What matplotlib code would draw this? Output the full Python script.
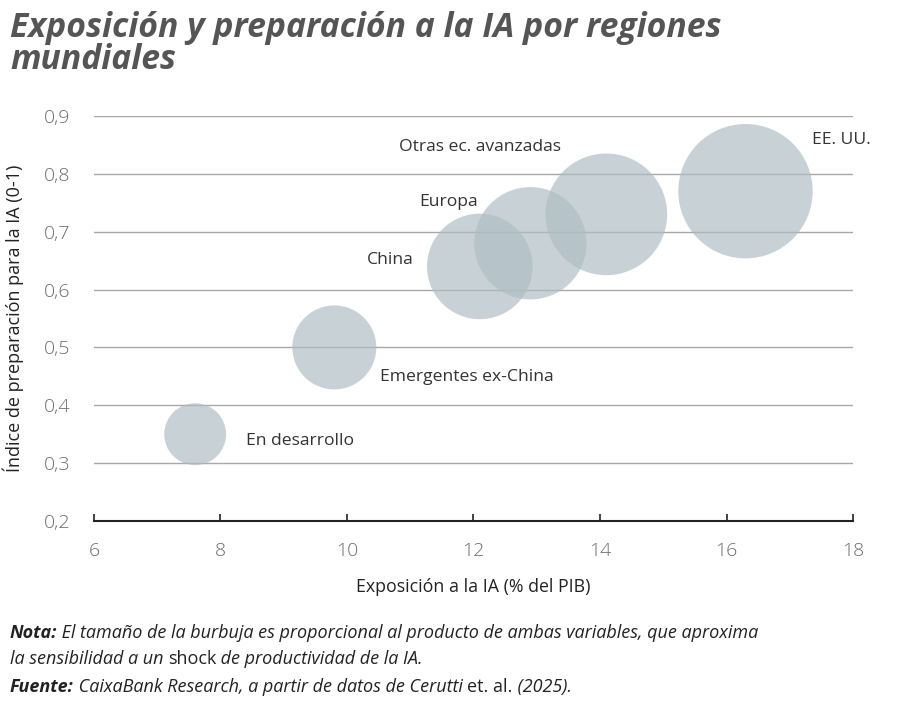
import matplotlib; matplotlib.use("Agg")
import numpy as np
import matplotlib.pyplot as plt

# datos
regiones = ["En desarrollo", "Emergentes ex-China", "China", "Europa",
            "Otras ec. avanzadas", "EE. UU."]
exposicion = [7.6, 9.8, 12.1, 12.9, 14.1, 16.3]
preparacion = [0.35, 0.50, 0.64, 0.68, 0.73, 0.77]

# posicion de las etiquetas (coordenadas de datos)
etiq_x = [9.26, 11.9, 10.68, 11.61, 12.1, 17.35]
etiq_y = [0.338, 0.449, 0.651, 0.751, 0.846, 0.858]
etiq_ha = ["center", "center", "center", "center", "center", "left"]

plt.rcParams['font.family'] = ['Open Sans', 'DejaVu Sans']
cond = ['Liberation Sans Narrow', 'Open Sans', 'DejaVu Sans']

fig = plt.figure(figsize=(9, 7.02), dpi=100)
ax = fig.add_axes([0.1044, 0.2578, 0.8434, 0.577])

x = np.array(exposicion)
y = np.array(preparacion)
tam = 746 * x * y  # area proporcional al producto
ax.scatter(x, y, s=tam, color="#aebdc2", alpha=0.67, edgecolors="none", zorder=3)

for t, tx, ty, ha in zip(regiones, etiq_x, etiq_y, etiq_ha):
    ax.text(tx, ty, t, ha=ha, va="center", fontsize=12.6, color="#333333", zorder=4)

ax.set_xlim(6, 18)
ax.set_ylim(0.2, 0.9)
ax.set_xticks(np.arange(6, 19, 2))
ax.set_yticks(np.arange(0.2, 0.91, 0.1))
ax.set_yticklabels([f"{v:.1f}".replace(".", ",") for v in np.arange(0.2, 0.91, 0.1)])
ax.yaxis.grid(True, color="#a8a8a8", lw=1)
ax.set_axisbelow(True)
for s in ["top", "right", "left"]:
    ax.spines[s].set_visible(False)
ax.spines["bottom"].set_color("#222222")
ax.spines["bottom"].set_linewidth(1.5)
ax.tick_params(axis="y", length=0, pad=17, labelsize=14, labelcolor="#6d6d6d")
ax.tick_params(axis="x", direction="in", length=5, width=1.2, color="#222222",
               pad=15, labelsize=14, labelcolor="#6d6d6d")
for lab in ax.get_xticklabels() + ax.get_yticklabels():
    lab.set_fontweight("light")

ax.set_xlabel("Exposición a la IA (% del PIB)", fontsize=12.8, color="#222222", labelpad=13)
ax.set_ylabel("Índice de preparación para la IA (0-1)", fontsize=13, color="#222222", labelpad=14)

fig.text(0.011, 0.985, "Exposición y preparación a la IA por regiones\nmundiales",
         fontsize=24.3, fontweight="bold", fontstyle="italic", color="#555555",
         family=cond, va="top", linespacing=0.93)


def linea(y0, partes):
    prev = None
    for txt, w, st in partes:
        kw = dict(fontsize=13, fontweight=w, fontstyle=st, color="#222222",
                  family=cond, ha="left", va="bottom")
        if prev is None:
            prev = fig.text(0.011, y0, txt, **kw)
        else:
            prev = ax.annotate(txt, xy=(1, 0), xycoords=prev, annotation_clip=False, **kw)


linea(0.085, [("Nota:", "bold", "italic"),
              (" El tamaño de la burbuja es proporcional al producto de ambas variables, que aproxima",
               "normal", "italic")])
linea(0.048, [("la sensibilidad a un ", "normal", "italic"),
              ("shock", "normal", "normal"),
              (" de productividad de la IA.", "normal", "italic")])
linea(0.009, [("Fuente:", "bold", "italic"),
              (" CaixaBank Research, a partir de datos de Cerutti ", "normal", "italic"),
              ("et. al.", "normal", "normal"),
              (" (2025).", "normal", "italic")])

fig.savefig("out.png", dpi=100)
